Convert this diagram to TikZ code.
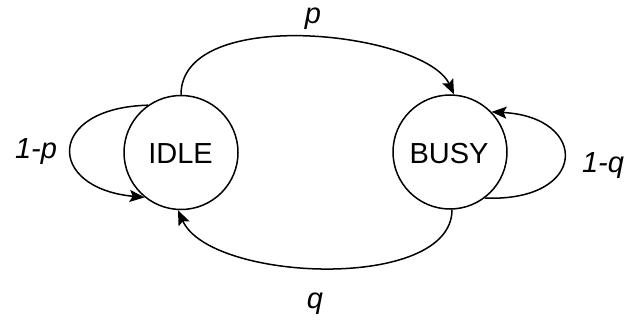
\documentclass[tikz,border=0pt]{standalone}
\usepackage{fontspec}
\setmainfont{Liberation Sans}
\usetikzlibrary{arrows.meta}
\begin{document}
\begin{tikzpicture}[x=1bp,y=1bp,
  state/.style={circle,draw,line width=1.5bp,minimum size=114bp,inner sep=0pt},
  edge/.style={line width=1.5bp,-{Stealth[length=15bp,width=12bp,inset=3bp]}},
  lbl/.style={anchor=base,inner sep=0pt,font=\fontsize{29bp}{35bp}\selectfont\itshape},
  txt/.style={anchor=base,inner sep=0pt,font=\fontsize{29bp}{35bp}\selectfont}]
\useasboundingbox (0,0) rectangle (639,322);
\node[state] (idle) at (181,169.5) {};
\node[state] (busy) at (450,170) {};
\node[txt] (idlet) at (180.5,159) {IDLE};
\node[txt] (busyt) at (449,159) {BUSY};
% p edge
\draw[edge] (idle.90) .. controls (181,318) and (425,290) .. (busy.86);
% q edge
\draw[edge] (busy.272) .. controls (452,30) and (210,40) .. (idle.267);
% self loops
\draw[edge] (idle.125) .. controls (46,214) and (46,134) .. (idle.231);
\draw[edge] (busy.-53) .. controls (589,120) and (589,205) .. (busy.44);
\node[lbl] (lp) at (313,299) {p};
\node[lbl] (lq) at (315,14) {q};
\node[lbl] (l1p) at (36,164) {1-p};
\node[lbl] (l1q) at (603,150) {1-q};
\end{tikzpicture}
\end{document}
